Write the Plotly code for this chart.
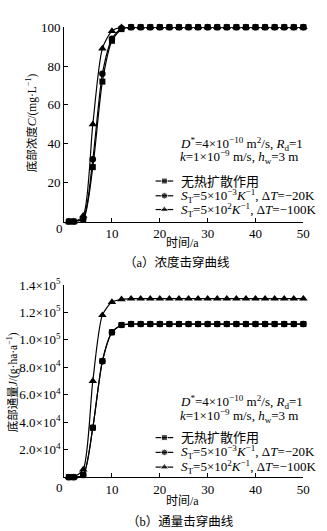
import plotly.graph_objects as go

# ---- data -------------------------------------------------------------
years = [1, 2, 4, 6, 8, 10, 12, 14, 16, 18, 20, 22, 24, 26, 28, 30,
         32, 34, 36, 38, 40, 42, 44, 46, 48, 50]

# bottom concentration C (mg/L)
conc_none = [0, 0, 1, 28, 72, 93, 99, 100, 100, 100, 100, 100, 100, 100,
             100, 100, 100, 100, 100, 100, 100, 100, 100, 100, 100, 100]
conc_20k = [0, 0, 1.5, 32, 76, 94, 99.5, 100, 100, 100, 100, 100, 100, 100,
            100, 100, 100, 100, 100, 100, 100, 100, 100, 100, 100, 100]
conc_100k = [0, 0, 3, 50, 89, 98, 100, 100, 100, 100, 100, 100, 100, 100,
             100, 100, 100, 100, 100, 100, 100, 100, 100, 100, 100, 100]

# bottom flux J (g/(ha·a))
flux_none = [0, 0, 1500, 36000, 84500, 105500, 110800, 111500, 111500,
             111500, 111500, 111500, 111500, 111500, 111500, 111500, 111500,
             111500, 111500, 111500, 111500, 111500, 111500, 111500, 111500,
             111500]
flux_20k = [0, 0, 1500, 36000, 84500, 105500, 110800, 111500, 111500,
            111500, 111500, 111500, 111500, 111500, 111500, 111500, 111500,
            111500, 111500, 111500, 111500, 111500, 111500, 111500, 111500,
            111500]
flux_100k = [0, 0, 5500, 70000, 118000, 127500, 129500, 130000, 130000,
             130000, 130000, 130000, 130000, 130000, 130000, 130000, 130000,
             130000, 130000, 130000, 130000, 130000, 130000, 130000, 130000,
             130000]

series_names = ["无热扩散作用",
                "<i>S</i><sub>T</sub>=5×10<sup>−3</sup><i>K</i><sup>−1</sup>, Δ<i>T</i>=−20K",
                "<i>S</i><sub>T</sub>=5×10<sup>2</sup><i>K</i><sup>−1</sup>, Δ<i>T</i>=−100K"]
symbols = ["square", "circle", "triangle-up"]
msizes = [6, 6.5, 7.5]

x_ticks = [10, 20, 30, 40, 50]
c_ticks = [20, 40, 60, 80, 100]
j_ticks = [20000, 40000, 60000, 80000, 100000, 120000, 140000]
j_ticktext = ["2.0×10<sup>4</sup>", "4.0×10<sup>4</sup>", "6.0×10<sup>4</sup>",
              "8.0×10<sup>4</sup>", "1.0×10<sup>5</sup>", "1.2×10<sup>5</sup>",
              "1.4×10<sup>5</sup>"]

# ---- layout helpers (pixel -> paper) -----------------------------------
W, H = 327, 531
FONT = "'Times New Roman', 'Liberation Serif', 'Noto Sans CJK SC', serif"


def px(x):
    return x / W


def py(y):
    return 1 - y / H


fig = go.Figure()

# draw order: triangle, circle, square (square on top)
top_sets = [(conc_100k, 2), (conc_20k, 1), (conc_none, 0)]
bot_sets = [(flux_100k, 2), (flux_none, 0), (flux_20k, 1)]

for vals, k in top_sets:
    fig.add_trace(go.Scatter(
        x=years, y=vals, xaxis="x", yaxis="y", mode="lines+markers",
        line=dict(color="black", width=1.2, shape="spline", smoothing=0.7),
        marker=dict(symbol=symbols[k], size=msizes[k], color="black"),
        cliponaxis=False, showlegend=False, name=series_names[k]))

for vals, k in bot_sets:
    fig.add_trace(go.Scatter(
        x=years, y=vals, xaxis="x2", yaxis="y2", mode="lines+markers",
        line=dict(color="black", width=1.2, shape="spline", smoothing=0.7),
        marker=dict(symbol=symbols[k], size=msizes[k], color="black"),
        cliponaxis=False, showlegend=False, name=series_names[k]))

# legend samples, drawn on a pixel-space overlay axis
leg_rows = {"top": [175, 190, 204], "bot": [436, 451, 466]}
for panel in ("top", "bot"):
    for k, yrow in enumerate(leg_rows[panel]):
        fig.add_trace(go.Scatter(
            x=[159, 168, 177], y=[yrow] * 3, xaxis="x3", yaxis="y3",
            mode="lines+markers",
            line=dict(color="black", width=1.2),
            marker=dict(symbol=symbols[k], size=[0, msizes[k], 0],
                        color="black"),
            cliponaxis=False, showlegend=False, hoverinfo="skip"))

axis_common = dict(showline=True, linecolor="black", linewidth=1,
                   ticks="inside", ticklen=4, tickcolor="black",
                   showgrid=False, zeroline=False,
                   tickfont=dict(family=FONT, size=13, color="black"))

xdom = [px(65.5), px(310)]
fig.update_layout(
    width=W, height=H,
    margin=dict(l=0, r=0, t=0, b=0),
    paper_bgcolor="white", plot_bgcolor="rgba(0,0,0,0)",
    font=dict(family=FONT, size=13, color="black"),
    xaxis=dict(domain=xdom, range=[0, 50], tickvals=x_ticks,
               anchor="y", **axis_common),
    yaxis=dict(domain=[py(216.2), py(18.5)], range=[0, 100],
               tickvals=c_ticks, anchor="x", **axis_common),
    xaxis2=dict(domain=xdom, range=[0, 50], tickvals=x_ticks,
                anchor="y2", **axis_common),
    yaxis2=dict(domain=[py(476.2), py(280.7)], range=[0, 140000],
                tickvals=j_ticks, ticktext=j_ticktext, anchor="x2",
                **axis_common),
    xaxis3=dict(domain=[0, 1], range=[0, W], visible=False, anchor="y3"),
    yaxis3=dict(domain=[0, 1], range=[H, 0], visible=False, anchor="x3"),
)

ann = []


def text(x, y, s, size=13, xanchor="center", angle=0):
    ann.append(dict(x=px(x), y=py(y), xref="paper", yref="paper", text=s,
                    showarrow=False, xanchor=xanchor, yanchor="middle",
                    textangle=angle, font=dict(family=FONT, size=size,
                                               color="black")))


# shared origin labels
text(61, 223, "0")
text(61, 487, "0")

# axis titles
text(32, 116, "底部浓度<i>C</i>/(mg·L<sup>−1</sup>)", size=11.5, angle=-90)
text(13, 380, "底部通量<i>J</i>/(g·ha·a<sup>−1</sup>)", size=11.5, angle=-90)
text(187, 238, "时间/a", size=12)
text(187, 500, "时间/a", size=12)

# panel captions
text(181, 258, "（a）浓度击穿曲线", size=12.5)
text(184, 521, "（b）通量击穿曲线", size=12.5)

# parameter notes
for y1, y2 in ((137, 151), (400, 414)):
    text(182, y1, "<i>D</i><sup>*</sup>=4×10<sup>−10</sup> m<sup>2</sup>/s, "
         "<i>R</i><sub>d</sub>=1", xanchor="left")
    text(182, y2, "<i>k</i>=1×10<sup>−9</sup> m/s, <i>h</i><sub>w</sub>=3 m",
         xanchor="left")

# legend labels
for panel in ("top", "bot"):
    for k, yrow in enumerate(leg_rows[panel]):
        text(183, yrow, series_names[k], xanchor="left")

fig.update_layout(annotations=ann)

fig.write_html("out.html")
